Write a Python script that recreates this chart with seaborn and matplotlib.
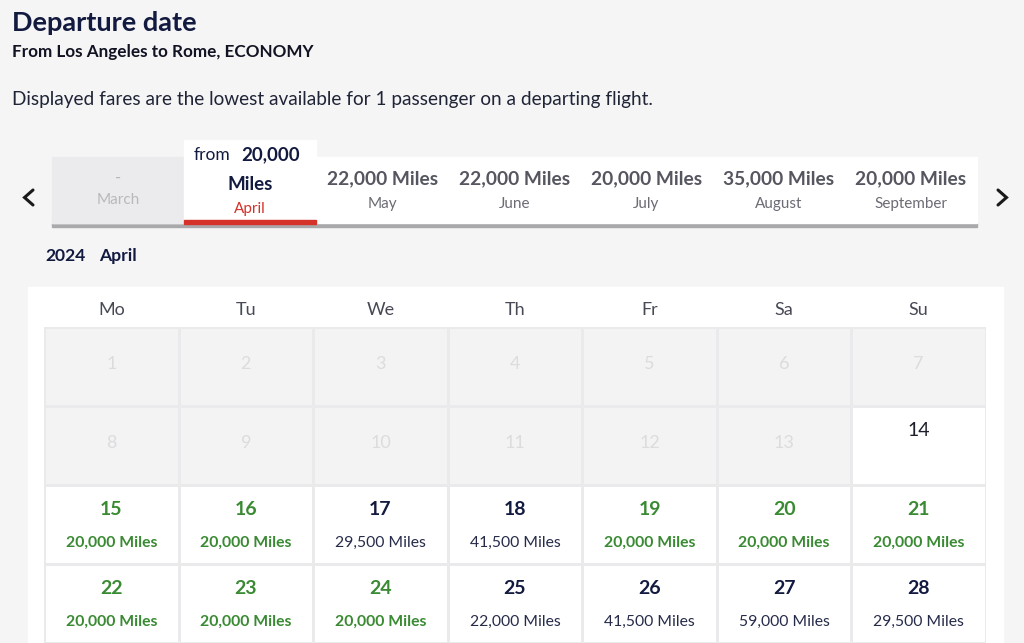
import matplotlib.pyplot as plt
import numpy as np
import seaborn as sns
from matplotlib.colors import ListedColormap
from matplotlib.patches import Rectangle


# month strip
MONTHS = ["March", "April", "May", "June", "July", "August", "September"]
MONTH_MILES = [None, 20000, 22000, 22000, 20000, 35000, 20000]
SELECTED_MONTH = "April"

# calendar (April 2024 starts on a Monday)
WEEKDAYS = ["Mo", "Tu", "We", "Th", "Fr", "Sa", "Su"]
DAYS = [1, 2, 3, 4, 5, 6, 7, 8, 9, 10, 11, 12, 13, 14,
        15, 16, 17, 18, 19, 20, 21, 22, 23, 24, 25, 26, 27, 28]
DAY_MILES = [None] * 14 + [20000, 20000, 29500, 41500, 20000, 20000, 20000,
                           20000, 20000, 20000, 22000, 41500, 59000, 29500]
FIRST_OPEN_DAY = 14

NAVY = "#131a3f"
GREEN = "#3a8a33"
RED = "#d5322a"
BG = "#f5f5f6"

W, H = 1024, 643


def miles(v):
    return f"{v:,} Miles"


def draw_page(ax):
    ax.set_xlim(0, W)
    ax.set_ylim(H, 0)
    ax.axis("off")

    ax.text(12, 23, "Departure date", fontsize=19.5, fontweight="bold", color=NAVY, va="center")
    ax.text(12, 52, "From Los Angeles to Rome, ECONOMY", fontsize=12.3, fontweight="bold",
            color="#111322", va="center")
    ax.text(12, 99, "Displayed fares are the lowest available for 1 passenger on a departing flight.",
            fontsize=13.7, color="#1f2436", va="center")

    # month strip
    left, tab_w = 52, 132.1
    ax.add_patch(Rectangle((left, 223), tab_w * len(MONTHS), 3.5, color="#a9a9ab", zorder=1))
    ax.add_patch(Rectangle((left, 157), tab_w * len(MONTHS), 66, color="white", zorder=2))
    for i, (month, value) in enumerate(zip(MONTHS, MONTH_MILES)):
        x0 = left + i * tab_w
        cx = x0 + tab_w / 2
        if value is None:
            ax.add_patch(Rectangle((x0, 157), tab_w, 66, color="#ebebed", zorder=3))
            ax.text(cx, 178, "-", fontsize=12, color="#b9b9bd", ha="center", va="center", zorder=4)
            ax.text(cx, 200, month, fontsize=11, color="#b9b9bd", ha="center", va="center", zorder=4)
        elif month == SELECTED_MONTH:
            ax.add_patch(Rectangle((x0, 140), tab_w, 83, color="white", zorder=3))
            ax.add_patch(Rectangle((x0, 220), tab_w, 3.5, color=RED, zorder=4))
            ax.text(x0 + 46, 155, "from", fontsize=12.5, color=NAVY, ha="right", va="center", zorder=4)
            ax.text(x0 + 57, 155, f"{value:,}", fontsize=13.5, fontweight="bold", color=NAVY,
                    ha="left", va="center", zorder=4)
            ax.text(cx, 184, "Miles", fontsize=13.5, fontweight="bold", color=NAVY,
                    ha="center", va="center", zorder=4)
            ax.text(cx, 209, month, fontsize=11, color=RED, ha="center", va="center", zorder=4)
        else:
            ax.text(cx, 179, miles(value), fontsize=13.8, fontweight="bold", color="#55565f",
                    ha="center", va="center", zorder=4)
            ax.text(cx, 204, month, fontsize=11, color="#6b6c74", ha="center", va="center", zorder=4)

    # chevrons
    ax.plot([33, 24.5, 33], [190, 197.5, 205], color="#1a1a1a", lw=2.2, solid_joinstyle="miter")
    ax.plot([998, 1006.5, 998], [190, 197.5, 205], color="#1a1a1a", lw=2.2, solid_joinstyle="miter")

    ax.text(45, 256, "2024", fontsize=12.6, fontweight="bold", color=NAVY, va="center")
    ax.text(99, 256, "April", fontsize=12.6, fontweight="bold", color=NAVY, va="center")

    # calendar card
    ax.add_patch(Rectangle((28, 287), 975, H - 287, color="white", zorder=1))
    col_w = (986 - 44) / 7
    for i, day in enumerate(WEEKDAYS):
        ax.text(44 + col_w * (i + 0.5), 310, day, fontsize=13, color="#474955",
                ha="center", va="center", zorder=2)


def draw_calendar(fig):
    n_rows = int(np.ceil(len(DAYS) / 7))
    status = np.array([1 if d >= FIRST_OPEN_DAY else 0 for d in DAYS]).reshape(n_rows, 7)

    row_h = 79
    top, bottom = 327, 647
    ax = fig.add_axes([44 / W, (H - bottom) / H, (986 - 44) / W, (bottom - top) / H])
    sns.heatmap(status, ax=ax, cmap=ListedColormap(["#f3f3f4", "#ffffff"]), vmin=0, vmax=1,
                cbar=False, linewidths=0.75, linecolor="#eaeaec",
                xticklabels=False, yticklabels=False)
    ax.set_ylim((bottom - top) / row_h, 0)

    cheapest_fare = min(v for v in DAY_MILES if v is not None)
    for k, (day, value) in enumerate(zip(DAYS, DAY_MILES)):
        r, c = divmod(k, 7)
        cx = c + 0.5
        if day < FIRST_OPEN_DAY:
            ax.text(cx, r + 0.47, str(day), fontsize=13, color="#dcdcdf", ha="center", va="center")
        elif value is None:
            ax.text(cx, r + 0.31, str(day), fontsize=14, color="#1d1f2a", ha="center", va="center")
        else:
            cheapest = value == cheapest_fare
            color = GREEN if cheapest else NAVY
            ax.text(cx, r + 0.31, str(day), fontsize=14, fontweight="bold", color=color,
                    ha="center", va="center")
            ax.text(cx, r + 0.73, miles(value), fontsize=11.3,
                    fontweight="bold" if cheapest else "normal",
                    color=GREEN if cheapest else "#262b4a", ha="center", va="center")


if __name__ == "__main__":
    sns.set_theme(style="white")
    plt.rcParams["font.family"] = ["Lato", "DejaVu Sans"]

    fig = plt.figure(figsize=(W / 100, H / 100), dpi=100, facecolor=BG)
    page = fig.add_axes([0, 0, 1, 1])
    page.set_facecolor(BG)
    draw_page(page)
    draw_calendar(fig)

    fig.savefig("out.png", dpi=100, facecolor=BG)
    plt.close(fig)
